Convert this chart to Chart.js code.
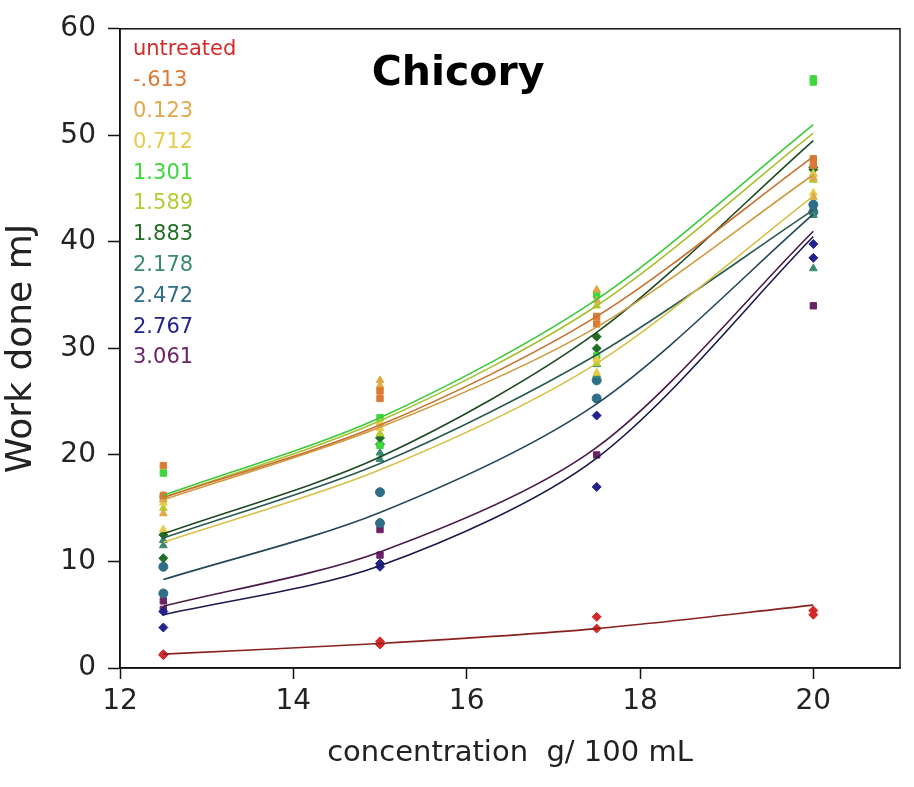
<!DOCTYPE html>
<html>
<head>
<meta charset="utf-8">
<script src="https://cdn.jsdelivr.net/npm/chart.js@4/dist/chart.umd.min.js"></script>
<style>
  html, body { margin: 0; padding: 0; background: #fff; }
  #wrap { width: 914px; height: 787px; }
</style>
</head>
<body>
<div id="wrap"><canvas id="chicory"></canvas></div>
<script>
// concentrations measured (g / 100 mL)
var concentrations = [12.5, 15, 17.5, 20];

var seriesNames = ['untreated', '-.613', '0.123', '0.712', '1.301', '1.589', '1.883', '2.178', '2.472', '2.767', '3.061'];
var seriesColors = ['#d42a2a', '#dc7a34', '#e2a848', '#e6cc4a', '#3cd83c', '#b4cc32', '#226e26', '#3a8a72', '#2e6e86', '#22228e', '#6c2266'];
var lineColors = ['#8a2020', '#c87030', '#d09a40', '#d8c048', '#3cc83c', '#a8c030', '#1e4a22', '#2a5a50', '#24485a', '#1a1a50', '#4a1a48'];
var markerShapes = ['rectRot', 'rect', 'triangle', 'triangle', 'rect', 'triangle', 'rectRot', 'triangle', 'circle', 'rectRot', 'rect'];

// fitted curve read at each concentration
var fitCurves = [
  [1.3, 2.3, 3.7, 5.9],
  [16.0, 22.8, 33.0, 48.0],
  [15.8, 22.6, 32.0, 46.3],
  [11.8, 18.6, 28.6, 44.3],
  [16.2, 23.5, 34.6, 51.0],
  [16.0, 23.2, 34.0, 50.2],
  [12.6, 19.8, 31.5, 49.5],
  [12.2, 19.2, 29.4, 43.0],
  [8.3, 14.6, 24.8, 42.6],
  [5.0, 9.6, 19.7, 40.5],
  [5.8, 10.9, 20.7, 41.0]
];

// measured replicates
var replicate1 = [
  [1.3, 2.5, 4.8, 5.4],
  [19.0, 26.0, 33.0, 47.8],
  [14.5, 27.0, 35.5, 44.2],
  [15.5, 23.0, 27.7, 44.6],
  [18.3, 23.5, 35.0, 55.3],
  [16.2, 23.0, 34.0, 46.4],
  [12.5, 21.6, 31.1, 47.0],
  [11.5, 20.2, 28.5, 42.5],
  [9.5, 16.5, 27.0, 43.5],
  [3.8, 9.8, 23.7, 39.8],
  [6.3, 13.0, 25.3, 34.0]
];
var replicate2 = [
  [1.2, 2.2, 3.7, 5.0],
  [16.2, 25.3, 32.3, 47.2],
  [15.8, 26.5, 34.5, 46.0],
  [13.0, 22.5, 29.0, 46.3],
  [16.0, 20.9, 29.3, 55.0],
  [15.0, 22.0, 28.6, 45.8],
  [10.3, 21.0, 30.0, 46.8],
  [12.0, 19.6, 27.5, 37.5],
  [7.0, 13.6, 25.3, 42.8],
  [5.3, 9.5, 17.0, 38.5],
  [5.5, 10.6, 20.0, 43.3]
];

var xTicks = [12, 14, 16, 18, 20];
var yTicks = [0, 10, 20, 30, 40, 50, 60];

function pairs(xs, ys) {
  return xs.map(function (x, i) { return { x: x, y: ys[i] }; });
}

var datasets = [];
seriesNames.forEach(function (name, i) {
  datasets.push({
    type: 'line',
    label: name + ' fit',
    data: pairs(concentrations, fitCurves[i]),
    borderColor: lineColors[i],
    borderWidth: 1.6,
    pointRadius: 0,
    fill: false,
    tension: 0.3,
    order: 1
  });
  datasets.push({
    type: 'scatter',
    label: name,
    data: pairs(concentrations, replicate1[i]).concat(pairs(concentrations, replicate2[i])),
    backgroundColor: seriesColors[i],
    borderColor: seriesColors[i],
    pointStyle: markerShapes[i],
    pointRadius: 4.5,
    order: 2
  });
});

var chartDecor = {
  id: 'chartDecor',
  afterDraw: function (chart) {
    var ctx = chart.ctx, a = chart.chartArea;
    ctx.save();
    ctx.strokeStyle = '#111';
    ctx.lineWidth = 1.5;
    ctx.strokeRect(a.left, a.top, a.right - a.left, a.bottom - a.top);

    ctx.fillStyle = '#000';
    ctx.font = 'bold 41px "DejaVu Sans"';
    ctx.textAlign = 'center';
    ctx.textBaseline = 'middle';
    ctx.fillText('Chicory', 458, 74);

    ctx.font = '21px "DejaVu Sans"';
    ctx.textAlign = 'left';
    seriesNames.forEach(function (name, i) {
      ctx.fillStyle = seriesColors[i];
      ctx.fillText(name, 133, 50 + i * 30.8);
    });
    ctx.restore();
  }
};

var ctx = document.getElementById('chicory').getContext('2d');

var chicoryChart = new Chart(ctx, {
  type: 'scatter',
  data: { datasets: datasets },
  options: {
    responsive: true,
    maintainAspectRatio: false,
    animation: false,
    layout: { padding: { top: 22, right: 14, left: 0, bottom: 0 } },
    plugins: {
      legend: { display: false },
      tooltip: { enabled: false }
    },
    scales: {
      x: {
        type: 'linear',
        min: 12,
        max: 21,
        afterFit: function (scale) { scale.height = 119; },
        afterBuildTicks: function (scale) { scale.ticks = xTicks.map(function (v) { return { value: v }; }); },
        grid: { drawOnChartArea: false, drawTicks: true, tickLength: 11, color: '#111', tickWidth: 1.5 },
        border: { color: '#111', width: 1.5 },
        ticks: { color: '#222', font: { family: 'DejaVu Sans', size: 28 }, padding: 6, maxRotation: 0 },
        title: {
          display: true,
          text: 'concentration  g/ 100 mL',
          color: '#222',
          font: { family: 'DejaVu Sans', size: 29 },
          padding: { top: 0, bottom: 16 }
        }
      },
      y: {
        min: 0,
        max: 60,
        afterFit: function (scale) { scale.width = 120; },
        afterBuildTicks: function (scale) { scale.ticks = yTicks.map(function (v) { return { value: v }; }); },
        grid: { drawOnChartArea: false, drawTicks: true, tickLength: 12, color: '#111', tickWidth: 1.5 },
        border: { color: '#111', width: 1.5 },
        ticks: { color: '#222', font: { family: 'DejaVu Sans', size: 28 }, padding: 12 },
        title: {
          display: true,
          text: 'Work done mJ',
          color: '#222',
          font: { family: 'DejaVu Sans', size: 36 },
          padding: { top: 0, bottom: 0 }
        }
      }
    }
  },
  plugins: [chartDecor]
});
</script>
</body>
</html>
